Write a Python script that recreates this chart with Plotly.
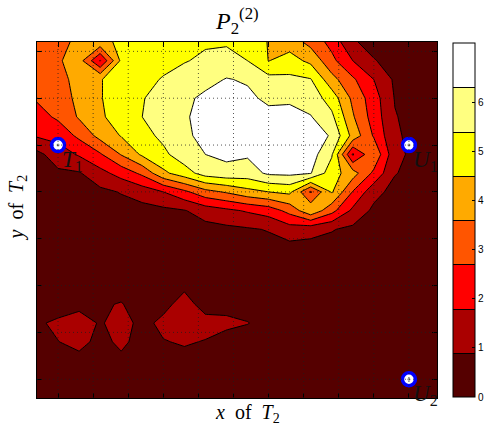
import plotly.graph_objects as go

# grid coordinates (physical units)
x_coords = [-0.6, 0.0, 0.6, 1.2, 1.8, 2.4, 3.0, 3.6, 4.2, 4.8, 5.4, 6.0, 6.6, 7.2, 7.8, 8.4, 9.0, 9.6, 10.2, 10.8]
# rows listed from top (y=7.2) to bottom (y=-0.4)
y_coords_top_down = [7.2, 6.8, 6.4, 6.0, 5.6, 5.2, 4.8, 4.4, 4.0, 3.6, 3.2, 2.8, 2.4, 2.0, 1.6, 1.2, 0.8, 0.4, 0.0, -0.4]

z_top_down = [
    [3.2, 3.4, 3.75, 4.2, 4.7, 5.0, 5.1, 5.2, 5.3, 5.3, 5.1, 4.45, 4.1, 3.3, 2.4, 1.0, 0.6, 0.45, 0.4, 0.35],
    [3.3, 3.5, 4.0, 1.75, 4.7, 5.0, 5.2, 5.35, 5.55, 5.7, 5.4, 4.48, 4.85, 4.29, 2.95, 1.8, 0.95, 0.6, 0.45, 0.4],
    [3.2, 3.45, 3.75, 4.45, 4.9, 5.2, 5.45, 5.75, 6.0, 6.35, 6.2, 5.7, 5.6, 5.45, 3.92, 2.85, 1.8, 0.75, 0.5, 0.45],
    [2.8, 3.2, 3.8, 4.45, 4.9, 5.35, 5.75, 6.1, 6.5, 6.7, 6.5, 6.1, 6.1, 5.9, 5.0, 3.4, 2.2, 0.85, 0.55, 0.5],
    [2.35, 2.85, 3.7, 4.4, 4.8, 5.4, 5.8, 6.2, 6.6, 6.9, 6.8, 6.6, 6.7, 6.35, 5.6, 3.7, 2.3, 0.95, 0.6, 0.5],
    [1.9, 2.1, 2.9, 3.9, 4.55, 5.1, 5.6, 6.1, 6.6, 7.0, 7.1, 6.9, 7.0, 6.8, 6.2, 4.2, 2.6, 1.0, 0.7, 0.55],
    [0.65, 1.35, 1.9, 2.6, 3.65, 4.65, 5.2, 5.9, 6.3, 6.5, 6.4, 6.8, 6.9, 6.7, 5.5, 1.7, 3.45, 1.15, 0.65, 0.55],
    [0.6, 0.75, 0.82, 1.5, 2.15, 2.9, 4.3, 5.0, 5.8, 6.0, 5.9, 6.45, 6.5, 6.35, 4.9, 4.0, 2.5, 0.95, 0.6, 0.5],
    [0.55, 0.6, 0.6, 0.7, 0.95, 1.3, 1.8, 2.5, 3.3, 3.7, 4.2, 4.5, 4.7, 2.6, 4.6, 2.65, 1.2, 0.6, 0.5, 0.45],
    [0.5, 0.5, 0.55, 0.6, 0.55, 0.6, 0.7, 0.85, 1.3, 1.6, 1.9, 2.2, 3.0, 4.3, 3.0, 1.6, 0.7, 0.5, 0.45, 0.4],
    [0.5, 0.5, 0.5, 0.5, 0.5, 0.5, 0.5, 0.55, 0.6, 0.7, 0.8, 0.95, 1.4, 1.2, 0.95, 0.7, 0.55, 0.45, 0.4, 0.4],
    [0.45, 0.5, 0.5, 0.5, 0.5, 0.5, 0.5, 0.5, 0.5, 0.55, 0.55, 0.6, 0.6, 0.6, 0.6, 0.55, 0.5, 0.45, 0.4, 0.4],
    [0.45, 0.45, 0.5, 0.5, 0.5, 0.5, 0.5, 0.5, 0.5, 0.5, 0.5, 0.5, 0.5, 0.5, 0.5, 0.5, 0.45, 0.45, 0.4, 0.4],
    [0.45, 0.4, 0.45, 0.5, 0.55, 0.5, 0.5, 0.7, 0.5, 0.5, 0.5, 0.45, 0.45, 0.45, 0.45, 0.45, 0.4, 0.4, 0.4, 0.4],
    [0.45, 0.35, 0.6, 0.8, 0.95, 0.5, 0.6, 1.3, 0.5, 0.6, 0.55, 0.5, 0.45, 0.45, 0.45, 0.4, 0.4, 0.4, 0.4, 0.4],
    [0.75, 1.1, 1.4, 0.8, 1.3, 0.6, 1.15, 1.5, 1.25, 1.1, 0.93, 0.6, 0.5, 0.45, 0.45, 0.4, 0.4, 0.4, 0.4, 0.4],
    [0.6, 0.88, 1.2, 0.62, 1.1, 0.55, 0.85, 1.0, 0.85, 0.56, 0.5, 0.5, 0.45, 0.45, 0.4, 0.4, 0.4, 0.4, 0.4, 0.4],
    [0.5, 0.55, 0.6, 0.55, 0.7, 0.5, 0.5, 0.6, 0.55, 0.5, 0.45, 0.45, 0.45, 0.4, 0.4, 0.4, 0.4, 0.4, 0.4, 0.4],
    [0.45, 0.5, 0.5, 0.5, 0.5, 0.5, 0.45, 0.45, 0.45, 0.45, 0.45, 0.4, 0.4, 0.4, 0.4, 0.4, 0.4, 0.4, 0.4, 0.4],
    [0.4, 0.45, 0.45, 0.45, 0.45, 0.45, 0.4, 0.4, 0.4, 0.4, 0.4, 0.4, 0.4, 0.4, 0.4, 0.4, 0.4, 0.4, 0.4, 0.4],
]

# contour levels / colorbar
level_start, level_end, level_size = 0.9, 6.3, 0.9
cbar_ticks = [0, 1, 2, 3, 4, 5, 6]
hot8 = ["#550000", "#aa0000", "#ff0000", "#ff5500", "#ffaa00", "#ffff00", "#ffff80", "#ffffff"]

# anchors
anchor_names = ["<i>T</i><sub>1</sub>", "<i>U</i><sub>1</sub>", "<i>U</i><sub>2</sub>"]
anchor_x = [0, 10, 10]
anchor_y = [5, 5, 0]

# grid tick positions
x_ticks = [0, 1, 2, 3, 4, 5, 6, 7, 8, 9, 10]
y_ticks = [0, 1, 2, 3, 4, 5, 6, 7]

# stepped colorscale (band k sampled at (2k+1)/14 by plotly fill coloring)
bounds = [0, 1/7, 2/7, 3/7, 4/7, 5/7, 6/7, 0.97, 1.0]
colorscale = []
for k, c in enumerate(hot8):
    colorscale.append([bounds[k], c])
    colorscale.append([bounds[k + 1], c])

y_coords = y_coords_top_down[::-1]
z = z_top_down[::-1]

serif = "Liberation Serif, DejaVu Serif"

fig = go.Figure()
fig.add_trace(go.Contour(
    x=x_coords, y=y_coords, z=z,
    zmin=0, zmax=7.2,
    autocontour=False,
    contours=dict(start=level_start, end=level_end, size=level_size, coloring="fill"),
    colorscale=colorscale,
    line=dict(color="black", width=1, smoothing=0),
    colorbar=dict(
        x=1.04, xanchor="left", xpad=0,
        y=0.5, yanchor="middle", ypad=0,
        thickness=22, lenmode="pixels", len=354,
        outlinecolor="black", outlinewidth=1,
        tickmode="array", tickvals=cbar_ticks,
        ticks="inside", ticklen=3, tickcolor="black",
        tickfont=dict(family="Liberation Sans, Arial", size=10, color="black"),
    ),
    hoverinfo="skip",
))

fig.add_trace(go.Scatter(
    x=anchor_x, y=anchor_y, mode="markers",
    marker=dict(symbol="circle", size=13, color="white", line=dict(color="#0000ff", width=3.5)),
    cliponaxis=False, showlegend=False, hoverinfo="skip",
))
fig.add_trace(go.Scatter(
    x=anchor_x, y=anchor_y, mode="markers",
    marker=dict(symbol="circle", size=3, color="#999999"),
    cliponaxis=False, showlegend=False, hoverinfo="skip",
))

shapes = []
for xv in x_ticks:
    shapes.append(dict(type="line", xref="x", yref="y", x0=xv, x1=xv, y0=-0.4, y1=7.2,
                       layer="above", line=dict(color="rgba(30,30,30,0.75)", width=1, dash="1px,3px")))
for yv in y_ticks:
    shapes.append(dict(type="line", xref="x", yref="y", x0=-0.6, x1=10.8, y0=yv, y1=yv,
                       layer="above", line=dict(color="rgba(30,30,30,0.75)", width=1, dash="1px,3px")))

annotations = [
    dict(text="<i>P</i><sub>2</sub><sup>(2)</sup>", xref="paper", yref="paper", x=0.5, y=1.0,
         xanchor="center", yanchor="bottom", yshift=2, showarrow=False,
         font=dict(family=serif, size=24, color="black")),
    dict(text="<i>x</i>&nbsp;&nbsp;of&nbsp;&nbsp;<i>T</i><sub>2</sub>", xref="paper", yref="paper", x=0.5, y=0,
         xanchor="center", yanchor="top", yshift=-1, xshift=10, showarrow=False,
         font=dict(family=serif, size=20, color="black")),
    dict(text="<i>y</i>&nbsp;&nbsp;of&nbsp;&nbsp;<i>T</i><sub>2</sub>", xref="paper", yref="paper", x=0, y=0.5,
         xanchor="right", yanchor="middle", xshift=-6, yshift=12, textangle=-90, showarrow=False,
         font=dict(family=serif, size=20, color="black")),
]
for name, ax_, ay_ in zip(anchor_names, anchor_x, anchor_y):
    annotations.append(dict(text=name, xref="x", yref="y", x=ax_, y=ay_,
                            xanchor="left", yanchor="top", xshift=2, yshift=0,
                            showarrow=False,
                            font=dict(family=serif, size=23, color="#111111")))

axis_common = dict(showgrid=False, zeroline=False, showticklabels=False,
                   showline=True, linecolor="black", linewidth=1, mirror="ticks",
                   ticks="inside", ticklen=5, tickcolor="black")

fig.update_layout(
    width=484, height=428,
    margin=dict(l=37, r=47, t=42, b=30, autoexpand=False),
    paper_bgcolor="white", plot_bgcolor="white",
    xaxis=dict(range=[-0.6, 10.8], tickmode="array", tickvals=x_ticks, **axis_common),
    yaxis=dict(range=[-0.4, 7.2], tickmode="array", tickvals=y_ticks, **axis_common),
    shapes=shapes,
    showlegend=False,
    annotations=annotations,
)

fig.write_html("out.html")
